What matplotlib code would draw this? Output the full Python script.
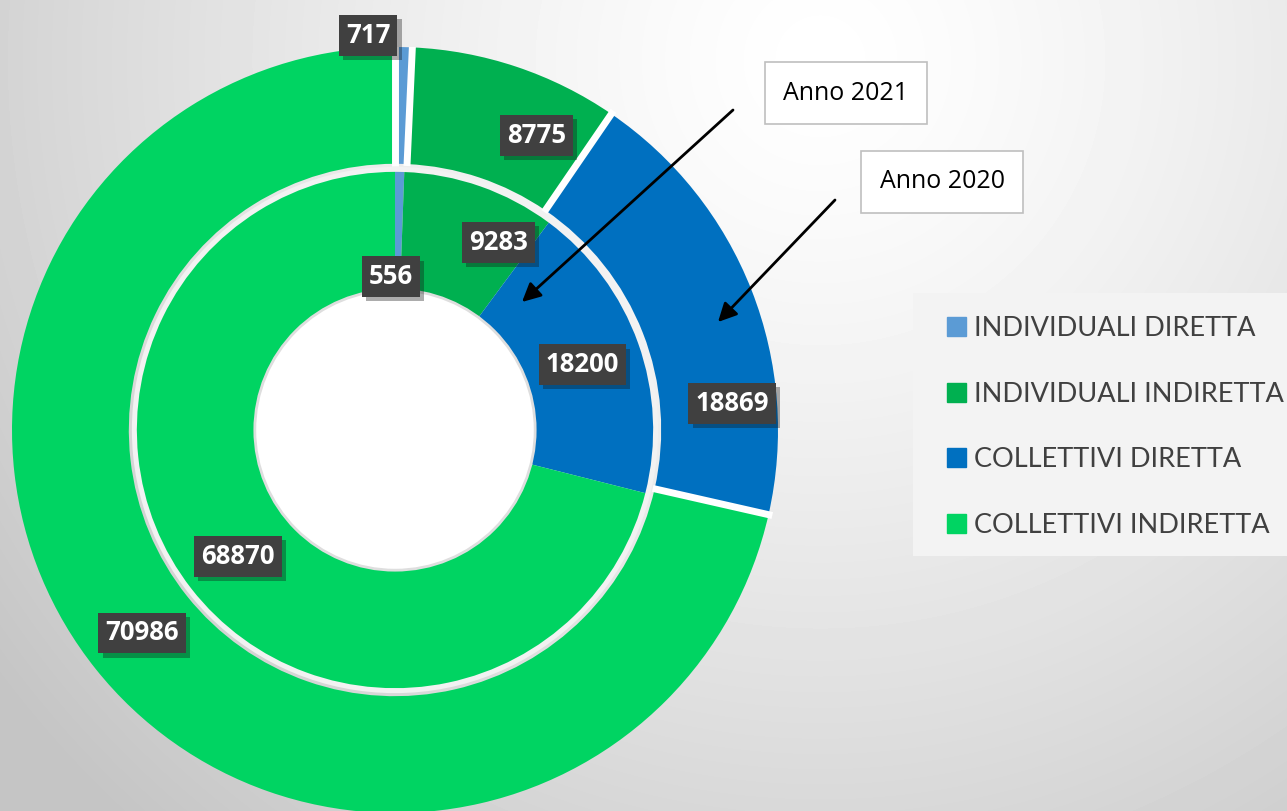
import numpy as np
import matplotlib.pyplot as plt
import matplotlib.patches as mpatches
import matplotlib.patheffects as pe

categories = ["INDIVIDUALI DIRETTA", "INDIVIDUALI INDIRETTA",
              "COLLETTIVI DIRETTA", "COLLETTIVI INDIRETTA"]
values_2020 = [717, 8775, 18869, 70986]   # outer ring
values_2021 = [556, 9283, 18200, 68870]   # inner ring
colors = ["#5B9BD5", "#00B050", "#0070C0", "#00D462"]

# label positions in pie units (radius of outer ring = 1)
pos_2020 = [(-0.07, 1.03), (0.37, 0.77), (0.88, 0.07), (-0.66, -0.53)]
pos_2021 = [(-0.01, 0.40), (0.27, 0.49), (0.49, 0.17), (-0.41, -0.33)]

W, H = 1287, 811
fig = plt.figure(figsize=(W / 100, H / 100), dpi=100)

# background gradient
bg = fig.add_axes([0, 0, 1, 1])
yy, xx = np.mgrid[0:H, 0:W]
d = np.sqrt((xx - 820) ** 2 + (yy - 60) ** 2) / 1000
shade = np.clip(1.0 - 0.22 * d ** 1.3, 0.77, 1.0)
bg.imshow(shade, cmap="gray", vmin=0, vmax=1, extent=[0, W, H, 0], aspect="auto")
bg.set_xlim(0, W)
bg.set_ylim(H, 0)
bg.axis("off")

# pie axes: centre (395, 430) px, radius 383 px
cx, cy, R = 395, 430, 383
ax = fig.add_axes([(cx - R) / W, (H - cy - R) / H, 2 * R / W, 2 * R / H])
ax.set_aspect("equal")
ax.axis("off")

ax.pie(values_2020, colors=colors, radius=1.0, startangle=90, counterclock=False,
       wedgeprops=dict(width=0.305, edgecolor="none"))
# white gaps between the outer slices
bounds = np.cumsum([0] + values_2020[:-1]) / sum(values_2020)
for b in bounds:
    ang = np.pi / 2 - 2 * np.pi * b
    ax.plot([0.69 * np.cos(ang), 1.01 * np.cos(ang)], [0.69 * np.sin(ang), 1.01 * np.sin(ang)],
            color="white", lw=5, solid_capstyle="butt")
ax.add_patch(mpatches.Circle((0, 0), 0.687, facecolor="#f2f2f2", edgecolor="none"))
ax.pie(values_2021, colors=colors, radius=0.674, startangle=90, counterclock=False,
       wedgeprops=dict(width=0.308, edgecolor="none"))
ax.add_patch(mpatches.Circle((0, 0), 0.366, facecolor="white", edgecolor="#dedede", lw=2))
ax.set_xlim(-1, 1)
ax.set_ylim(-1, 1)

def value_label(x, y, v):
    t = ax.text(x, y, str(v), ha="center", va="center", color="white",
                fontsize=18.5, fontweight="bold", family="Open Sans",
                bbox=dict(boxstyle="square,pad=0.27", facecolor="#404040", edgecolor="none"))
    t.get_bbox_patch().set_path_effects([pe.SimplePatchShadow(offset=(3, -3), alpha=0.35),
                                         pe.Normal()])

for (x, y), v in zip(pos_2020, values_2020):
    value_label(x, y, v)
for (x, y), v in zip(pos_2021, values_2021):
    value_label(x, y, v)

# year call-outs
def px(x, y):
    return ((x - cx) / R, (cy - y) / R)

box = dict(boxstyle="square,pad=0.75", facecolor="white", edgecolor="#bfbfbf", lw=1.2)
ax.text(*px(846, 93), "Anno 2021", ha="center", va="center", fontsize=18,
        family="Open Sans", color="black", bbox=box, clip_on=False)
ax.text(*px(942, 182), "Anno 2020", ha="center", va="center", fontsize=18,
        family="Open Sans", color="black", bbox=box, clip_on=False)
arrow = dict(arrowstyle="-|>", color="black", lw=2, mutation_scale=28, shrinkA=0, shrinkB=0)
ax.annotate("", xy=px(522, 302), xytext=px(733, 110), arrowprops=arrow, annotation_clip=False)
ax.annotate("", xy=px(718, 322), xytext=px(835, 200), arrowprops=arrow, annotation_clip=False)

# legend panel
fig.patches.append(mpatches.Rectangle((913 / W, 1 - 556 / H), (W - 913) / W, 263 / H,
                                      transform=fig.transFigure, facecolor="#f3f3f3",
                                      edgecolor="none", zorder=0.5))
handles = [mpatches.Patch(color=c, label=l) for c, l in zip(colors, categories)]
leg = fig.legend(handles=handles, loc="upper left", bbox_to_anchor=(947 / W, 1 - 316 / H),
                 frameon=False, borderpad=0, borderaxespad=0, handlelength=0.7,
                 handleheight=0.7, handletextpad=0.3, labelspacing=1.5,
                 prop=dict(family="Lato", size=19.5))
for t in leg.get_texts():
    t.set_color("#404040")

fig.savefig("out.png", dpi=100)
